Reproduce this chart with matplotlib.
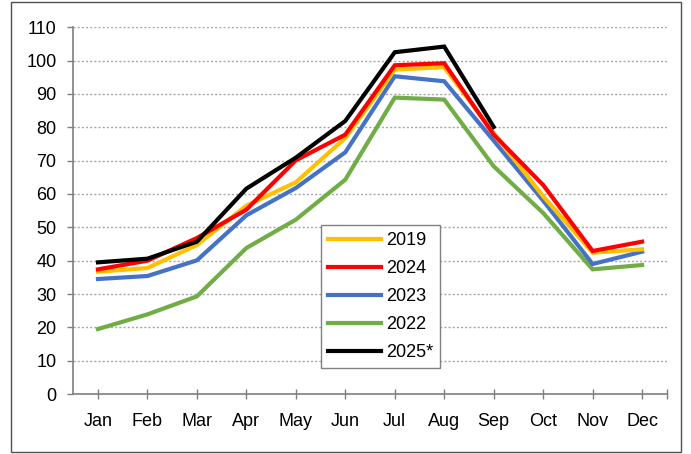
import matplotlib
matplotlib.use("Agg")
import matplotlib.pyplot as plt
from matplotlib.patches import Rectangle

plt.rcParams['font.family'] = ['Liberation Sans', 'DejaVu Sans']

months = ['Jan', 'Feb', 'Mar', 'Apr', 'May', 'Jun',
          'Jul', 'Aug', 'Sep', 'Oct', 'Nov', 'Dec']

y2019 = [36.7, 37.8, 44.7, 56.5, 63.5, 76.8, 97.3, 98.0, 78.3, 59.3, 42.4, 43.4]
y2024 = [37.4, 40.0, 46.8, 55.3, 70.1, 77.8, 98.6, 99.2, 77.8, 62.7, 42.9, 45.7]
y2023 = [34.5, 35.4, 40.1, 53.6, 61.8, 72.5, 95.3, 93.8, 76.0, 58.0, 39.0, 42.7]
y2022 = [19.5, 23.9, 29.3, 43.8, 52.3, 64.3, 88.9, 88.3, 68.3, 54.3, 37.4, 38.7]
y2025 = [39.5, 40.6, 45.7, 61.6, 70.9, 81.9, 102.5, 104.2, 80.1]

series = [
    ('2022', y2022, '#70AD47'),
    ('2023', y2023, '#4472C4'),
    ('2019', y2019, '#FFC000'),
    ('2024', y2024, '#FF0000'),
    ('2025*', y2025, '#000000'),
]
legend_order = ['2019', '2024', '2023', '2022', '2025*']

fig = plt.figure(figsize=(6.91, 4.54), dpi=100)
fig.patches.append(Rectangle((0.0159, 0.0044), 0.9696, 0.991,
                             transform=fig.transFigure, fill=False,
                             edgecolor='#505050', linewidth=1.0))

ax = fig.add_axes([0.106, 0.132, 0.859, 0.808])

handles = {}
for name, vals, color in series:
    x = list(range(len(vals)))
    ln, = ax.plot(x, vals, color=color, linewidth=3.0,
                  solid_joinstyle='miter', label=name)
    handles[name] = ln

ax.set_xlim(-0.5, 11.5)
ax.set_ylim(0, 110)
ax.set_yticks(range(0, 111, 10))
ax.set_xticks(range(12))
ax.set_xticklabels(months)
ax.set_xticks([11.5], minor=True)

ax.yaxis.grid(True, linestyle=(0, (1.5, 1.5)), color='#a6a6a6', linewidth=1.0)
ax.set_axisbelow(True)

for side in ('top', 'right'):
    ax.spines[side].set_visible(False)
for side in ('left', 'bottom'):
    ax.spines[side].set_color('#7f7f7f')
    ax.spines[side].set_linewidth(1.2)

ax.tick_params(axis='y', direction='out', length=4, width=1.0,
               color='#7f7f7f', labelsize=13, pad=8)
ax.tick_params(axis='x', which='both', direction='inout', length=7, width=1.0,
               color='#7f7f7f', labelsize=13, pad=10)

leg = ax.legend([handles[n] for n in legend_order], legend_order,
                loc='lower left', bbox_to_anchor=(0.417, 0.070),
                borderaxespad=0, fontsize=13, handlelength=2.95,
                handletextpad=0.25, labelspacing=0.61, borderpad=0.4,
                fancybox=False, framealpha=1, edgecolor='#808080')
leg.get_frame().set_linewidth(1.0)

fig.savefig('out.png', dpi=100)
